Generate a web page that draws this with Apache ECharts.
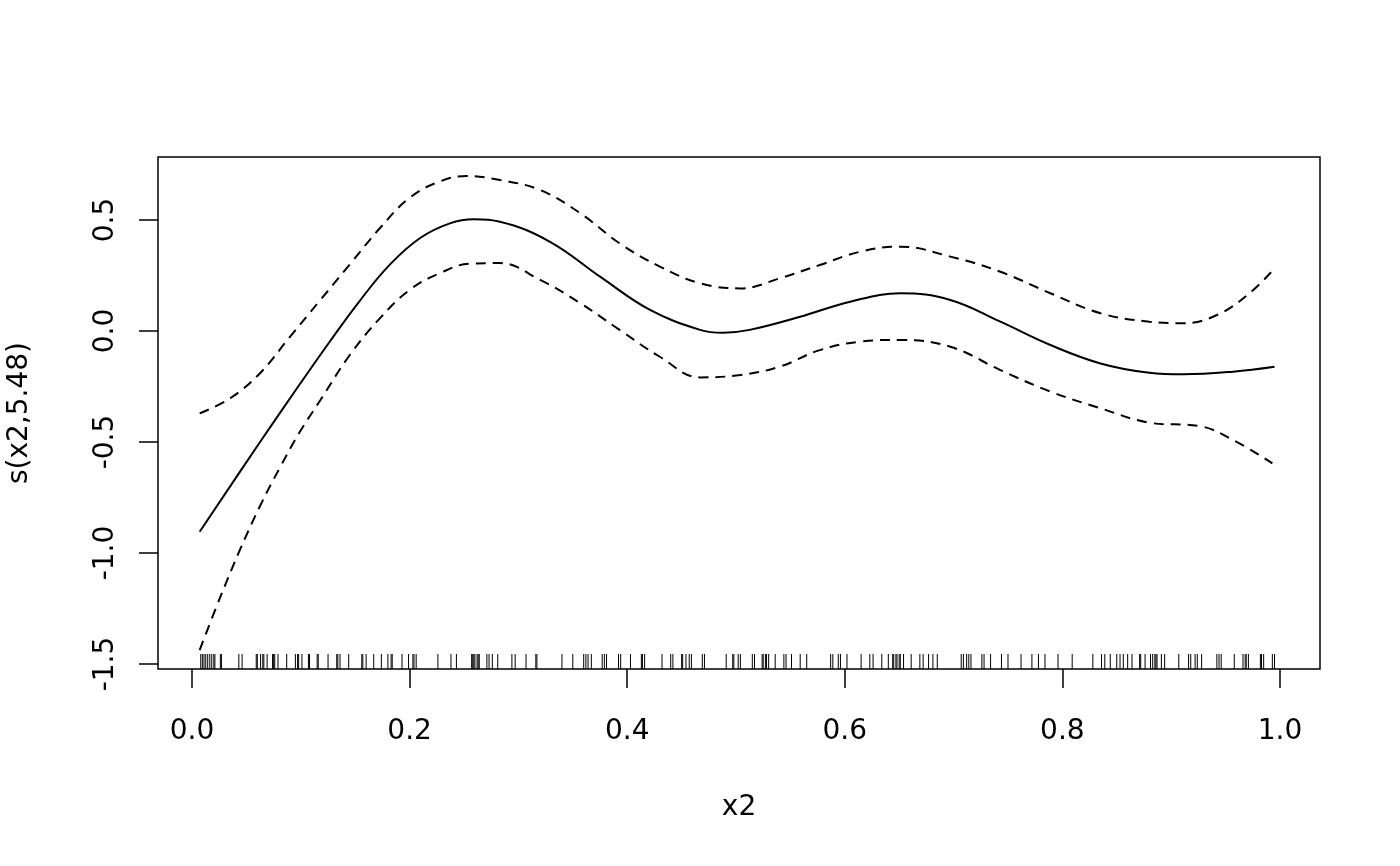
<!DOCTYPE html>
<html>
<head>
<meta charset="utf-8">
<script src="https://cdn.jsdelivr.net/npm/echarts@6/dist/echarts.min.js"></script>
<style>
  html, body { margin: 0; padding: 0; background: #fff; }
  #content { width: 1400px; height: 866px; }
</style>
</head>
<body>
<div id="content"></div>
<script>
// fitted smooth s(x2) and its +/- 2 se bands
var fitX = [0.007, 0.0625, 0.099, 0.127, 0.154, 0.182, 0.210, 0.237, 0.259, 0.283, 0.329, 0.375, 0.421, 0.467, 0.488, 0.5125, 0.559, 0.605, 0.651, 0.697, 0.743, 0.789, 0.835, 0.880, 0.911, 0.957, 0.995];
var fitY = [-0.904, -0.50, -0.24, -0.045, 0.135, 0.300, 0.420, 0.485, 0.503, 0.492, 0.402, 0.245, 0.095, 0.005, -0.008, 0.005, 0.064, 0.132, 0.170, 0.140, 0.042, -0.063, -0.146, -0.188, -0.195, -0.183, -0.161];

var upperX = [0.007, 0.035, 0.0625, 0.090, 0.118, 0.145, 0.173, 0.200, 0.228, 0.2525, 0.283, 0.320, 0.357, 0.393, 0.430, 0.467, 0.504, 0.540, 0.577, 0.614, 0.651, 0.697, 0.743, 0.789, 0.835, 0.880, 0.911, 0.942, 0.972, 0.995];
var upperY = [-0.371, -0.303, -0.19, -0.026, 0.14, 0.30, 0.465, 0.60, 0.674, 0.698, 0.68, 0.635, 0.53, 0.395, 0.29, 0.215, 0.192, 0.237, 0.297, 0.357, 0.38, 0.335, 0.267, 0.17, 0.08, 0.042, 0.035, 0.072, 0.17, 0.282];

var lowerX = [0.007, 0.026, 0.044, 0.0625, 0.081, 0.099, 0.118, 0.145, 0.173, 0.200, 0.228, 0.255, 0.283, 0.320, 0.357, 0.393, 0.430, 0.467, 0.504, 0.540, 0.577, 0.614, 0.651, 0.697, 0.743, 0.789, 0.835, 0.880, 0.926, 0.957, 0.993];
var lowerY = [-1.437, -1.198, -0.986, -0.788, -0.613, -0.455, -0.311, -0.108, 0.059, 0.185, 0.261, 0.303, 0.306, 0.23, 0.125, 0.005, -0.116, -0.209, -0.198, -0.161, -0.086, -0.048, -0.04, -0.071, -0.176, -0.273, -0.348, -0.413, -0.428, -0.491, -0.596];

// rug of observed x2 values
var rugX = [0.008, 0.0095, 0.011, 0.0126, 0.0144, 0.0163, 0.0181, 0.020, 0.021, 0.026, 0.027, 0.043, 0.046, 0.059, 0.060, 0.063, 0.065, 0.066, 0.069, 0.074, 0.075, 0.076, 0.079, 0.087, 0.095, 0.097, 0.098, 0.101, 0.107, 0.108, 0.115, 0.116, 0.125, 0.133, 0.134, 0.136, 0.144, 0.156, 0.157, 0.160,
  0.167, 0.174, 0.180, 0.183, 0.184, 0.193, 0.199, 0.203, 0.204, 0.206, 0.226, 0.238, 0.243, 0.257, 0.258, 0.259, 0.260, 0.262, 0.263, 0.264, 0.271, 0.273, 0.276, 0.281, 0.294, 0.297, 0.307, 0.316, 0.317,
  0.340, 0.350, 0.360, 0.362, 0.364, 0.367, 0.377, 0.379, 0.381, 0.392, 0.394, 0.403, 0.413, 0.414, 0.416, 0.432, 0.440, 0.442, 0.450, 0.451, 0.454, 0.457, 0.459, 0.469, 0.471, 0.491, 0.497, 0.498, 0.502, 0.504,
  0.515, 0.517, 0.524, 0.525, 0.527, 0.528, 0.530, 0.536, 0.544, 0.546, 0.551, 0.559, 0.565, 0.587, 0.589, 0.594, 0.596, 0.602, 0.615, 0.623, 0.626, 0.634, 0.640, 0.644, 0.645, 0.647, 0.648, 0.650, 0.651, 0.654, 0.661, 0.669, 0.672, 0.677,
  0.681, 0.685, 0.707, 0.709, 0.712, 0.714, 0.716, 0.726, 0.728, 0.734, 0.744, 0.750, 0.762, 0.772, 0.778, 0.784, 0.796, 0.809, 0.828, 0.836, 0.839, 0.844,
  0.850, 0.853, 0.856, 0.860, 0.864, 0.871, 0.872, 0.876, 0.881, 0.883, 0.885, 0.886, 0.887, 0.891, 0.894, 0.907, 0.916, 0.918, 0.922, 0.924, 0.928, 0.942, 0.944, 0.946, 0.958, 0.966, 0.968, 0.969, 0.971, 0.982, 0.983, 0.985, 0.993, 0.995];

var xTicks = [0, 0.2, 0.4, 0.6, 0.8, 1.0];
var yTicks = [-1.5, -1.0, -0.5, 0, 0.5];

var xMin = -0.0313, xMax = 1.0368;
var yMin = -1.5225, yMax = 0.7838;

function pairs(xs, ys) {
  return xs.map(function (x, i) { return [x, ys[i]]; });
}

var font = "DejaVu Sans";
var chartDom = document.getElementById("content");
var myChart = echarts.init(chartDom);

var option = {
  backgroundColor: "#fff",
  animation: false,
  grid: {
    left: 158,
    right: 80,
    top: 157,
    bottom: 197,
    containLabel: false,
    outerBoundsMode: "none",
    show: true,
    borderColor: "#000",
    borderWidth: 1.5,
  },
  xAxis: {
    type: "value",
    min: xMin,
    max: xMax,
    name: "x2",
    nameLocation: "middle",
    nameGap: 125,
    nameTextStyle: { fontFamily: font, fontSize: 28, color: "#000" },
    axisLine: { show: false, onZero: false },
    splitLine: { show: false },
    axisTick: {
      show: true,
      length: 19,
      customValues: xTicks,
      lineStyle: { color: "#000", width: 1.5 },
    },
    axisLabel: {
      customValues: xTicks,
      margin: 49,
      fontFamily: font,
      fontSize: 28,
      color: "#000",
      formatter: function (v) { return v.toFixed(1); },
    },
  },
  yAxis: {
    type: "value",
    min: yMin,
    max: yMax,
    name: "s(x2,5.48)",
    nameLocation: "middle",
    nameGap: 124,
    nameRotate: 90,
    nameTextStyle: { fontFamily: font, fontSize: 28, color: "#000" },
    axisLine: { show: false, onZero: false },
    splitLine: { show: false },
    axisTick: {
      show: true,
      length: 19,
      customValues: yTicks,
      lineStyle: { color: "#000", width: 1.5 },
    },
    axisLabel: {
      customValues: yTicks,
      rotate: 90,
      margin: 38,
      fontFamily: font,
      fontSize: 28,
      color: "#000",
      formatter: function (v) { return v.toFixed(1); },
    },
  },
  series: [
    {
      type: "line",
      data: pairs(fitX, fitY),
      smooth: 0.4,
      showSymbol: false,
      lineStyle: { color: "#000", width: 2 },
    },
    {
      type: "line",
      data: pairs(upperX, upperY),
      smooth: 0.4,
      showSymbol: false,
      lineStyle: { color: "#000", width: 2, type: [10, 7] },
    },
    {
      type: "line",
      data: pairs(lowerX, lowerY),
      smooth: 0.4,
      showSymbol: false,
      lineStyle: { color: "#000", width: 2, type: [10, 7] },
    },
    {
      // rug ticks standing on the bottom of the box
      type: "custom",
      data: rugX.map(function (v) { return [v]; }),
      encode: { x: 0 },
      renderItem: function (params, api) {
        var p = api.coord([api.value(0), yMin]);
        return {
          type: "line",
          shape: { x1: p[0], y1: p[1], x2: p[0], y2: p[1] - 15 },
          style: { stroke: "#000", lineWidth: 1 },
        };
      },
    },
  ],
};
myChart.setOption(option);
</script>
</body>
</html>
